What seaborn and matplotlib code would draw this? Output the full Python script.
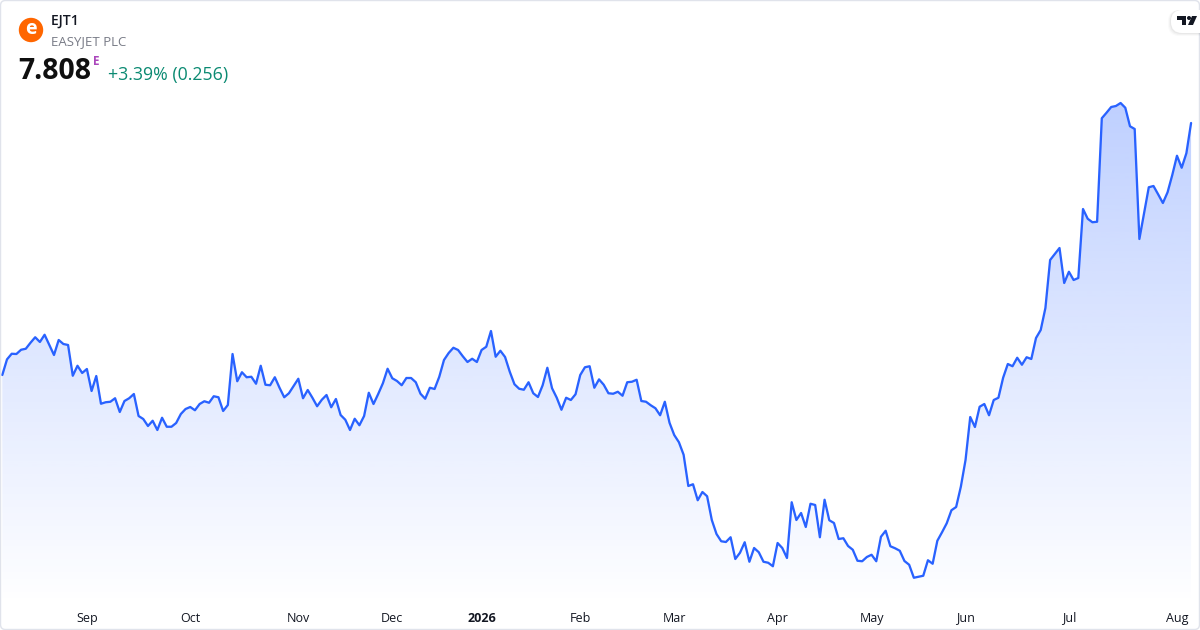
import numpy as np
import pandas as pd
import seaborn as sns
import matplotlib.pyplot as plt
from matplotlib.colors import to_rgb
from matplotlib.patches import FancyBboxPatch, Circle, Polygon

# closing prices
prices = [
    5.792, 5.917, 5.962, 5.960, 5.994, 6.002, 6.050, 6.094, 6.056, 6.114,
    6.032, 5.952, 6.072, 6.040, 6.032, 5.786, 5.866, 5.808, 5.840, 5.664,
    5.784, 5.562, 5.574, 5.578, 5.606, 5.496, 5.584, 5.606, 5.640, 5.464,
    5.440, 5.384, 5.426, 5.352, 5.450, 5.378, 5.378, 5.408, 5.480, 5.520,
    5.536, 5.510, 5.560, 5.582, 5.570, 5.622, 5.614, 5.504, 5.552, 5.960,
    5.742, 5.814, 5.774, 5.778, 5.722, 5.866, 5.714, 5.710, 5.774, 5.690,
    5.614, 5.646, 5.704, 5.762, 5.606, 5.672, 5.610, 5.542, 5.594, 5.632,
    5.534, 5.600, 5.472, 5.434, 5.352, 5.442, 5.390, 5.464, 5.650, 5.560,
    5.640, 5.726, 5.842, 5.766, 5.744, 5.710, 5.768, 5.768, 5.734, 5.642,
    5.602, 5.690, 5.680, 5.778, 5.912, 5.968, 6.010, 5.992, 5.942, 5.896,
    5.922, 5.896, 5.992, 6.018, 6.144, 5.938, 5.986, 5.936, 5.818, 5.718,
    5.682, 5.674, 5.734, 5.646, 5.616, 5.710, 5.850, 5.686, 5.610, 5.514,
    5.610, 5.592, 5.638, 5.792, 5.854, 5.862, 5.690, 5.757, 5.714, 5.646,
    5.642, 5.658, 5.626, 5.734, 5.738, 5.754, 5.584, 5.578, 5.550, 5.526,
    5.470, 5.578, 5.410, 5.312, 5.254, 5.154, 4.904, 4.918, 4.790, 4.856,
    4.822, 4.632, 4.520, 4.462, 4.456, 4.494, 4.320, 4.370, 4.454, 4.298,
    4.408, 4.374, 4.298, 4.290, 4.262, 4.448, 4.408, 4.328, 4.774, 4.632,
    4.688, 4.576, 4.762, 4.752, 4.494, 4.794, 4.630, 4.608, 4.480, 4.486,
    4.424, 4.394, 4.306, 4.302, 4.336, 4.354, 4.302, 4.498, 4.546, 4.422,
    4.406, 4.386, 4.304, 4.274, 4.170, 4.178, 4.186, 4.310, 4.282, 4.466,
    4.534, 4.606, 4.710, 4.736, 4.898, 5.112, 5.456, 5.376, 5.538, 5.560,
    5.470, 5.592, 5.610, 5.770, 5.880, 5.862, 5.930, 5.874, 5.934, 5.920,
    6.088, 6.152, 6.328, 6.712, 6.760, 6.808, 6.528, 6.618, 6.552, 6.568,
    7.120, 7.042, 7.014, 7.018, 7.846, 7.890, 7.936, 7.944, 7.968, 7.930,
    7.782, 7.760, 6.880, 7.088, 7.294, 7.304, 7.237, 7.168, 7.254, 7.392,
    7.546, 7.450, 7.566, 7.808,
]
month_labels = ['Sep', 'Oct', 'Nov', 'Dec', '2026', 'Feb', 'Mar', 'Apr', 'May', 'Jun', 'Jul', 'Aug']
month_starts = [18, 40, 63, 83, 102, 123, 143, 165, 185, 205, 227, 250]

ticker = 'EJT1'
company = 'EASYJET PLC'
last_price = '7.808'
change = '+3.39% (0.256)'

BLUE = '#2962FF'
FONT = 'Open Sans'

sns.set_theme(style='white')
plt.rcParams['font.family'] = [FONT, 'DejaVu Sans']

df = pd.DataFrame({'day': np.arange(len(prices)), 'price': prices})

fig = plt.figure(figsize=(12, 6.3), dpi=100, facecolor='white')
# plot area runs the full width, time labels sit below it
ax = fig.add_axes([0, 24 / 630, 1, 606 / 630])
ax.set_xlim(-0.49, 254.9)
ax.set_ylim(3.944, 8.792)
ax.patch.set_alpha(0)
sns.despine(ax=ax, left=True, bottom=True)

# gradient under the line
top_price = max(prices)
grad = np.zeros((256, 1, 4))
grad[..., :3] = to_rgb(BLUE)
grad[:, 0, 3] = np.linspace(0.30, 0.0, 256)
img = ax.imshow(grad, extent=(-0.49, 254.9, 3.944, top_price), origin='upper',
                aspect='auto', interpolation='bilinear', zorder=1)
ax.set_xlim(-0.49, 254.9)
ax.set_ylim(3.944, 8.792)
area = ax.fill_between(df['day'], df['price'], 3.944, facecolor='none', edgecolor='none')
img.set_clip_path(area.get_paths()[0], transform=ax.transData)

sns.lineplot(data=df, x='day', y='price', color=BLUE, linewidth=1.65, ax=ax, zorder=3)
ax.set_xlabel('')
ax.set_ylabel('')
ax.set_yticks([])
ax.set_xticks(month_starts)
ax.set_xticklabels(month_labels)
ax.tick_params(axis='x', length=0, pad=4, labelsize=9, labelcolor='#131722')
for lab, txt in zip(ax.get_xticklabels(), month_labels):
    if txt == '2026':
        lab.set_fontweight('bold')

# overlay in pixel coordinates for header, logos and card border
over = fig.add_axes([0, 0, 1, 1], facecolor='none')
over.set_xlim(0, 1200)
over.set_ylim(630, 0)
over.axis('off')

over.add_patch(FancyBboxPatch((0.5, 0.5), 1199, 629, boxstyle='round,pad=0,rounding_size=5',
                              fc='none', ec='#e0e3eb', lw=1))
over.add_patch(Circle((31, 30), 12.2, fc='#ff6600', ec='none'))
over.text(31, 29, 'e', color='white', fontsize=14, fontweight='bold', ha='center', va='center')

over.text(51, 21.5, ticker, color='#131722', fontsize=10, fontweight='semibold', va='center')
over.text(51, 41.5, company, color='#787b86', fontsize=9.5, va='center')
over.text(18.5, 71.5, last_price, color='#0f0f0f', fontsize=20.4, fontweight='bold', va='center')
over.text(93, 61.5, 'E', color='#ab47bc', fontsize=8.5, fontweight='bold', va='center')
over.text(108, 75, change, color='#0b8a72', fontsize=12.8, va='center')

# TradingView badge
for off, a in [(3, 0.02), (2, 0.03), (1, 0.04)]:
    over.add_patch(FancyBboxPatch((1171 - off, 10), 40 + off, 23 + off,
                                  boxstyle='round,pad=0,rounding_size=11', fc='black',
                                  ec='none', alpha=a))
over.add_patch(FancyBboxPatch((1171, 10), 40, 23, boxstyle='round,pad=0,rounding_size=11',
                              fc='white', ec='none'))
over.add_patch(Polygon([(1177, 16), (1186, 16), (1186, 25), (1182, 25), (1182, 20), (1177, 20)],
                       fc='#131722', ec='none'))
over.add_patch(Circle((1189, 18), 2, fc='#131722', ec='none'))
over.add_patch(Polygon([(1192, 16), (1197, 16), (1193, 25), (1188, 25)], fc='#131722', ec='none'))

fig.savefig('out.png', dpi=100)
